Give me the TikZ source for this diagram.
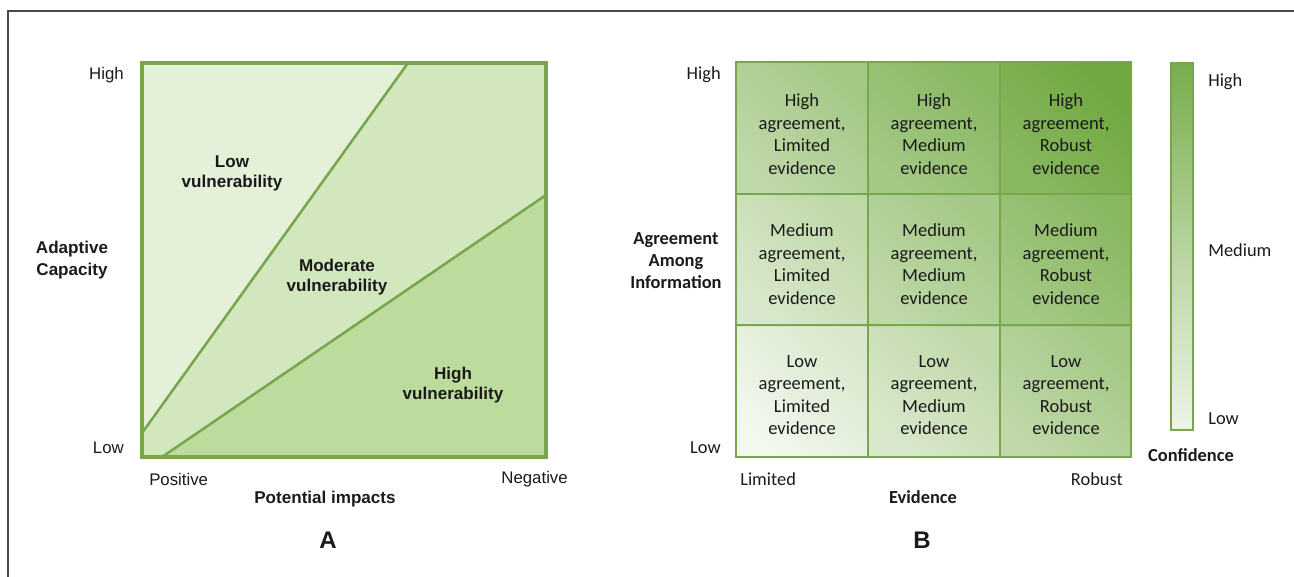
\documentclass[tikz,border=0pt]{standalone}
\usepackage{fontspec}
\setmainfont{Liberation Sans}
\newfontfamily\arialf{Liberation Sans}
\newfontfamily\calf{Carlito}
\definecolor{frameC}{HTML}{4A4A4A}
\definecolor{gborder}{HTML}{77A64D}
\definecolor{gdark}{HTML}{6CA63A}
\definecolor{lowR}{HTML}{E4F0D8}
\definecolor{modR}{HTML}{D2E7BE}
\definecolor{highR}{HTML}{BDDB9C}
\definecolor{txt}{HTML}{1A1A1A}
\tikzset{
  alab/.style={font=\arialf\fontsize{12.6}{15}\selectfont, text=txt, inner sep=0pt},
  ablab/.style={font=\arialf\bfseries\fontsize{12.8}{15}\selectfont, text=txt, inner sep=0pt, align=center},
  blab/.style={font=\calf\fontsize{13.8}{16.5}\selectfont, text=txt, inner sep=0pt},
  bblab/.style={font=\calf\bfseries\fontsize{13.8}{16.5}\selectfont, text=txt, inner sep=0pt, align=center},
  celltxt/.style={font=\calf\fontsize{13.9}{16.9}\selectfont, text=txt, inner sep=0pt, align=center},
  panelname/.style={font=\arialf\bfseries\fontsize{18}{20}\selectfont, text=txt, inner sep=0pt},
  gline/.style={draw=gborder, line width=2.4pt, line join=miter},
  dline/.style={draw=gborder, line width=1.9pt},
}
\begin{document}
\begin{tikzpicture}[x=0.75pt, y=-0.75pt]
\useasboundingbox (0,0) rectangle (1294,577);
% outer frame (top and left)
\draw[frameC, line width=1.7pt] (8,577) -- (8,11) -- (1294,11);

% ---------------- Panel A ----------------
\coordinate (aTL) at (142,63);
\coordinate (aTR) at (546,63);
\coordinate (aBL) at (142,457);
\coordinate (aBR) at (546,457);
\coordinate (l1a) at (142,433);
\coordinate (l1b) at (408,63);
\coordinate (l2a) at (162,457);
\coordinate (l2b) at (546,195);
\fill[lowR] (aTL) -- (l1b) -- (l1a) -- cycle;
\fill[modR] (l1b) -- (aTR) -- (l2b) -- (l2a) -- (aBL) -- (l1a) -- cycle;
\fill[highR] (l2a) -- (l2b) -- (aBR) -- cycle;
\draw[dline] (l1a) -- (l1b);
\draw[dline] (l2a) -- (l2b);
\draw[gline] (aTL) rectangle (aBR);

\node[ablab] (lowv) at (232,173) {Low\\vulnerability};
\node[ablab] (modv) at (337,277) {Moderate\\vulnerability};
\node[ablab] (highv) at (453,385) {High\\vulnerability};

\node[alab, anchor=east] (aHigh) at (124,75) {High};
\node[alab, anchor=east] (aLow) at (124,448) {Low};
\node[ablab, font=\arialf\bfseries\fontsize{12.8}{16.5}\selectfont] (aAC) at (72,260) {Adaptive\\Capacity};
\node[alab, anchor=west] (aPos) at (149,479) {Positive};
\node[alab, anchor=east] (aNeg) at (568,479) {Negative};
\node[ablab] (aPI) at (325,499) {Potential impacts};
\node[panelname] (A) at (328,540) {A};

% ---------------- Panel B ----------------
\foreach \i/\x in {0/736,1/868,2/1000}{
  \foreach \j/\y in {0/325,1/194,2/62}{
    \pgfmathtruncatemacro{\pa}{8+18*(\i+\j)}
    \pgfmathtruncatemacro{\pb}{26+18*(\i+\j)}
    \path[bottom color=gdark!\pa!white, top color=gdark!\pb!white, shading angle=-45]
      (\x,\y) rectangle ++(132,132);
  }
}
\foreach \x in {868,1000}{ \draw[gborder, line width=2.2pt] (\x,62) -- (\x,457); }
\foreach \y in {194,325}{ \draw[gborder, line width=2.2pt] (736,\y) -- (1131,\y); }
\draw[gline, line width=2.2pt] (736,62) rectangle (1131,457);

\node[celltxt] (c11) at (802,134) {High\\agreement,\\Limited\\evidence};
\node[celltxt] (c12) at (934,134) {High\\agreement,\\Medium\\evidence};
\node[celltxt] (c13) at (1066,134) {High\\agreement,\\Robust\\evidence};
\node[celltxt] (c21) at (802,264) {Medium\\agreement,\\Limited\\evidence};
\node[celltxt] (c22) at (934,264) {Medium\\agreement,\\Medium\\evidence};
\node[celltxt] (c23) at (1066,264) {Medium\\agreement,\\Robust\\evidence};
\node[celltxt] (c31) at (802,395) {Low\\agreement,\\Limited\\evidence};
\node[celltxt] (c32) at (934,395) {Low\\agreement,\\Medium\\evidence};
\node[celltxt] (c33) at (1066,395) {Low\\agreement,\\Robust\\evidence};

\node[blab, anchor=east] (bHigh) at (721,75) {High};
\node[blab, anchor=east] (bLow) at (721,448) {Low};
\node[bblab] (bAg) at (676,261) {Agreement\\Among\\Information};
\node[blab, anchor=west] (bLim) at (740,479) {Limited};
\node[blab, anchor=east] (bRob) at (1123,479) {Robust};
\node[bblab] (bEv) at (923,497) {Evidence};
\node[panelname] (B) at (922,540) {B};

% colour bar
\path[top color=gdark!92!white, bottom color=gdark!12!white, middle color=gdark!50!white]
  (1171,63) rectangle (1193,430);
\draw[gborder, line width=1.6pt] (1171,63) rectangle (1193,430);
\node[blab, anchor=west] (cHigh) at (1208,82) {High};
\node[blab, anchor=west] (cMed) at (1208,250) {Medium};
\node[blab, anchor=west] (cLow) at (1208,419) {Low};
\node[bblab] (cConf) at (1191,455) {Confidence};
\end{tikzpicture}
\end{document}
